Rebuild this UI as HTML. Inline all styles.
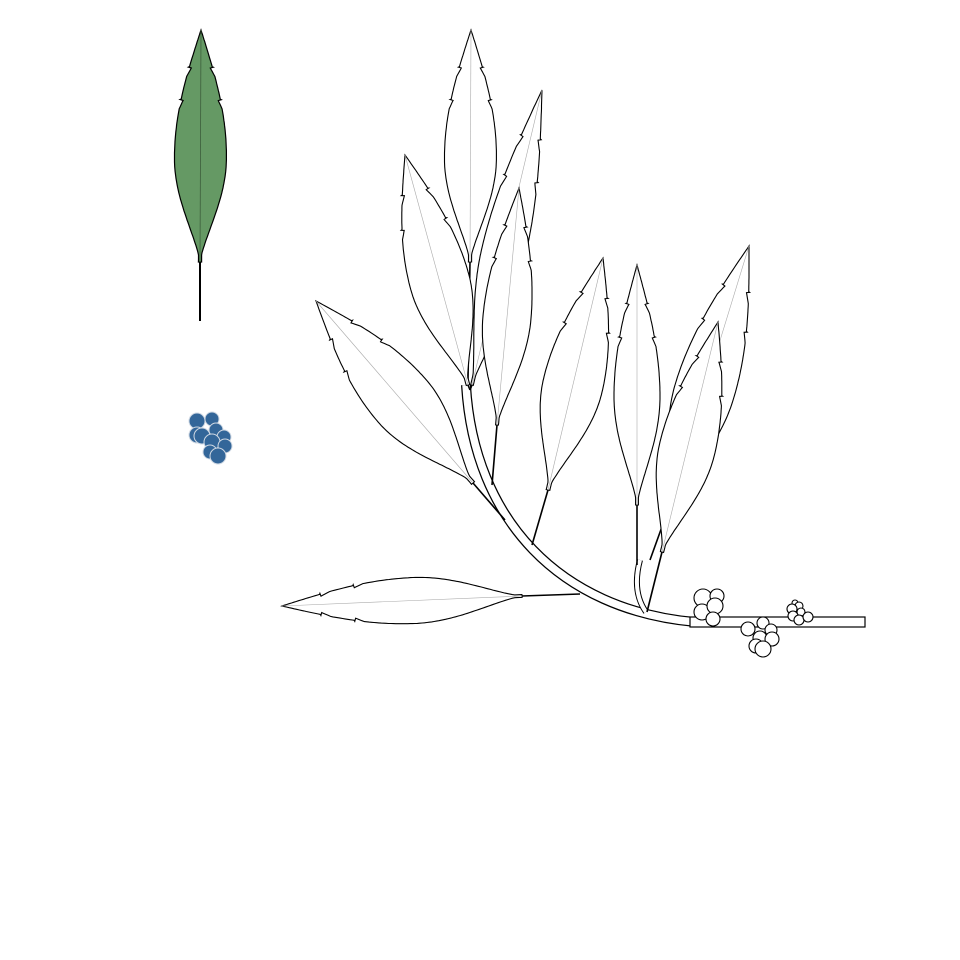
<!DOCTYPE html>
<html><head><meta charset="utf-8"><style>
html,body{margin:0;padding:0;background:#fff;width:960px;height:960px;overflow:hidden}
</style></head><body>
<svg id="s" width="960" height="960" viewBox="0 0 960 960" xmlns="http://www.w3.org/2000/svg">
<g id="stemG">
<path d="M466 385 C474 520 560 610 695 622" fill="none" stroke="#000" stroke-width="10"/>
<path d="M466 385 C474 520 560 610 695 622" fill="none" stroke="#fff" stroke-width="7.5"/>
<rect x="690" y="617" width="175" height="10" fill="#fff" stroke="#000" stroke-width="1.2"/>
<path d="M646 612 C634 595 636 575 640 560" fill="none" stroke="#000" stroke-width="6"/>
<path d="M646 612 C634 595 636 575 640 560" fill="none" stroke="#fff" stroke-width="4"/>
</g>
<g id="petG"></g>
<g id="leafG"></g>
<g id="berryG"></g>
</svg>
<script>
// leaves: [baseX, baseY, tipX, tipY, halfWidth]
const leafBases=[[470,262],[472,385],[468,385],[497,425],[473,483],[548,490],[637,505],[668,510],[662,552],[522,596]];
const leafTips=[[471,30],[542,90],[405,155],[519,188],[316,301],[603,258],[637,265],[749,246],[718,322],[282,606]];
const leafWidths=[26,22,30,24,32,30,23,30,28,23];
const petStarts=[[468,380],[470,390],[470,390],[492,485],[505,520],[532,545],[637,565],[650,560],[647,612],[580,594]];
const berries=[[703,598,9],[717,596,7],[702,612,8],[715,606,8],[713,619,7],
[748,629,7],[763,623,6],[771,630,6],[760,638,7],[772,639,7],[756,646,7],[763,649,8],
[795,603,3],[799,606,4],[792,609,5],[801,612,4],[793,616,5],[799,620,5],[808,617,5]];
const blueBerries=[[197,421,8],[212,419,7],[197,435,8],[216,430,7],[224,437,7],[202,436,8],[212,442,8],[225,446,7],[210,452,7],[218,456,8]];
const NS='http://www.w3.org/2000/svg';
function prof(s,W){
  const m=0.45;
  if(s<m){return W*Math.max(0.06,Math.pow(Math.sin(Math.PI/2*s/m),1.3));}
  const u=(s-m)/(1-m);return W*Math.cos(Math.PI/2*u);
}
function leafPath(b,t,W){
  const dx=t[0]-b[0],dy=t[1]-b[1],L=Math.hypot(dx,dy),nx=-dy/L,ny=dx/L;
  const teeth=[0.7,0.84];
  const ss=[];for(let i=0;i<=100;i++)ss.push(i/100);
  teeth.forEach(k=>{ss.push(k-0.004,k,k+0.002);});
  ss.sort((a,b)=>a-b);
  const A=[],B=[];
  ss.forEach(s=>{let w=prof(s,W);
    teeth.forEach(k=>{const a=k-0.04;
      if(s>a&&s<k)w-=2.5*(s-a)/(k-a);
      if(Math.abs(s-k)<1e-9)w+=1;});
    w=Math.max(w,0.5);if(s>=1)w=0;
    const px=b[0]+dx*s,py=b[1]+dy*s;
    A.push([px+nx*w,py+ny*w]);B.push([px-nx*w,py-ny*w]);});
  const pts=A.concat(B.reverse());
  return 'M'+pts.map(p=>p[0].toFixed(1)+' '+p[1].toFixed(1)).join(' L')+'Z';
}
const s=document.getElementById('s');
const lg=document.getElementById('leafG'),pg=document.getElementById('petG'),bg=document.getElementById('berryG');
function mk(tag,attrs,parent){const e=document.createElementNS(NS,tag);for(const k in attrs)e.setAttribute(k,attrs[k]);parent.appendChild(e);return e;}
const gl=mk('g',{},s);


mk('path',{d:'M199 321 L199 262 L201 262 L201 321Z',fill:'#000'},gl);
mk('path',{d:leafPath([200,262],[201,30],26),fill:'#659964',stroke:'#000','stroke-width':1.2},gl);
mk('line',{x1:200,y1:262,x2:201,y2:30,stroke:'#3d5e3c','stroke-width':0.8},gl);
const bb=mk('g',{},s);


blueBerries.forEach(c=>mk('circle',{cx:c[0],cy:c[1],r:c[2],fill:'#336699',stroke:'#cfd8e3','stroke-width':1},bb));
petStarts.forEach((p,i)=>{const e=mk('line',{x1:p[0],y1:p[1],x2:leafBases[i][0],y2:leafBases[i][1],stroke:'#000','stroke-width':1.6},pg);
  
  });
leafBases.forEach((b,i)=>{const g=mk('g',{},lg);
  
  
  mk('path',{d:leafPath(b,leafTips[i],leafWidths[i]),fill:'#fff',stroke:'#000','stroke-width':1.1},g);
  mk('line',{x1:b[0],y1:b[1],x2:leafTips[i][0],y2:leafTips[i][1],stroke:'#aaa','stroke-width':0.6},g);});
berries.forEach(c=>{const e=mk('circle',{cx:c[0],cy:c[1],r:c[2],fill:'#fff',stroke:'#000','stroke-width':1.1},bg);
  
  });
</script>
</body></html>
